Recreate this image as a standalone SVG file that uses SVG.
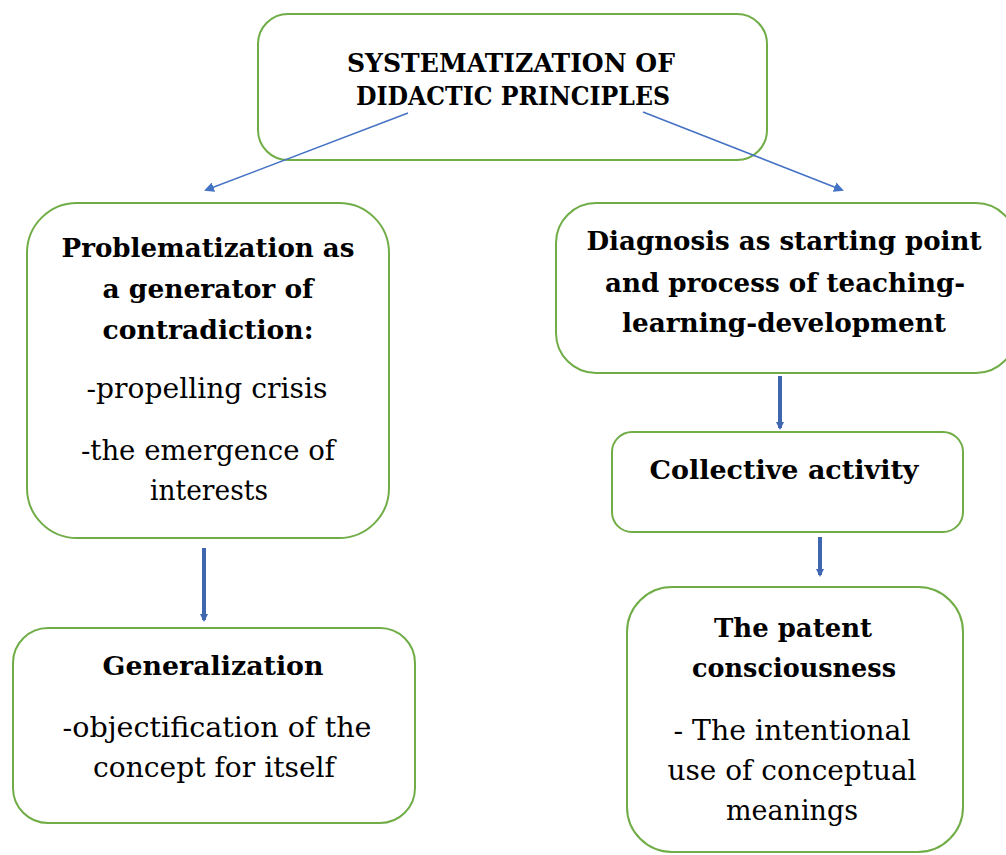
<svg xmlns="http://www.w3.org/2000/svg" width="1006" height="855" viewBox="0 0 1006 855">
<style>
text{font-family:'DejaVu Serif','Liberation Serif','Times New Roman',serif;fill:#000;text-anchor:middle}
.box{fill:#fff;stroke:#70AD47;stroke-width:2}
.b{font-weight:bold;font-size:26px}
.n{font-size:27px}
.t{font-weight:bold;font-size:26px}
.thin{stroke:#4472C4;stroke-width:1.5;fill:none}
.thick{stroke:#3F67B0;stroke-width:4;fill:none}
</style>
<defs>
<marker id="ah" markerWidth="10" markerHeight="10" refX="8" refY="5" orient="auto" markerUnits="userSpaceOnUse"><path d="M0,0 L10,5 L0,10 z" fill="#4472C4"/></marker>
<marker id="ah2" markerWidth="8" markerHeight="8" refX="6" refY="4" orient="auto" markerUnits="userSpaceOnUse"><path d="M0,0 L8,4 L0,8 z" fill="#3F67B0"/></marker>
</defs>
<g id="n-top"><rect class="box" x="258" y="14" width="509" height="146" rx="30"/>
<text class="t" x="511" y="72" textLength="328" lengthAdjust="spacingAndGlyphs">SYSTEMATIZATION  OF</text>
<text class="t" x="513" y="105" textLength="314" lengthAdjust="spacingAndGlyphs">DIDACTIC  PRINCIPLES</text></g>
<g id="n-problem"><rect class="box" x="27" y="203" width="362" height="335" rx="50"/>
<text class="b" x="208" y="257" textLength="293" lengthAdjust="spacingAndGlyphs">Problematization as</text>
<text class="b" x="208" y="298" textLength="211" lengthAdjust="spacingAndGlyphs">a generator of</text>
<text class="b" x="208" y="339" textLength="211" lengthAdjust="spacingAndGlyphs">contradiction:</text>
<text class="n" x="207" y="398" textLength="241" lengthAdjust="spacingAndGlyphs">-propelling crisis</text>
<text class="n" x="208" y="460" textLength="254" lengthAdjust="spacingAndGlyphs">-the emergence of</text>
<text class="n" x="209" y="500" textLength="118" lengthAdjust="spacingAndGlyphs">interests</text></g>
<g id="n-diag"><rect class="box" x="556" y="203" width="460" height="170" rx="40"/>
<text class="b" x="784" y="250" textLength="395" lengthAdjust="spacingAndGlyphs">Diagnosis as starting point</text>
<text class="b" x="785" y="292" textLength="360" lengthAdjust="spacingAndGlyphs">and process of teaching-</text>
<text class="b" x="784" y="332" textLength="324" lengthAdjust="spacingAndGlyphs">learning-development</text></g>
<g id="n-collective"><rect class="box" x="612" y="432" width="351" height="100" rx="20"/>
<text class="b" x="784" y="479" textLength="269" lengthAdjust="spacingAndGlyphs">Collective activity</text></g>
<g id="n-general"><rect class="box" x="13" y="628" width="402" height="195" rx="35"/>
<text class="b" x="213" y="675" textLength="221" lengthAdjust="spacingAndGlyphs">Generalization</text>
<text class="n" x="217" y="737" textLength="309" lengthAdjust="spacingAndGlyphs">-objectification of the</text>
<text class="n" x="214" y="777" textLength="242" lengthAdjust="spacingAndGlyphs">concept for itself</text></g>
<g id="n-patent"><rect class="box" x="627" y="587" width="336" height="265" rx="45"/>
<text class="b" x="793" y="637" textLength="158" lengthAdjust="spacingAndGlyphs">The patent</text>
<text class="b" x="794" y="677" textLength="204" lengthAdjust="spacingAndGlyphs">consciousness</text>
<text class="n" x="792" y="740" textLength="237" lengthAdjust="spacingAndGlyphs">- The intentional</text>
<text class="n" x="792" y="780" textLength="249" lengthAdjust="spacingAndGlyphs">use of conceptual</text>
<text class="n" x="792" y="820" textLength="132" lengthAdjust="spacingAndGlyphs">meanings</text></g>
<g id="connectors">
<line class="thin" x1="408" y1="113" x2="206" y2="190" marker-end="url(#ah)"/>
<line class="thin" x1="643" y1="112" x2="842" y2="190" marker-end="url(#ah)"/>
<line class="thick" x1="204" y1="548" x2="204" y2="620" marker-end="url(#ah2)"/>
<line class="thick" x1="780" y1="376" x2="780" y2="428" marker-end="url(#ah2)"/>
<line class="thick" x1="820" y1="537" x2="820" y2="575" marker-end="url(#ah2)"/>
</g>
</svg>
